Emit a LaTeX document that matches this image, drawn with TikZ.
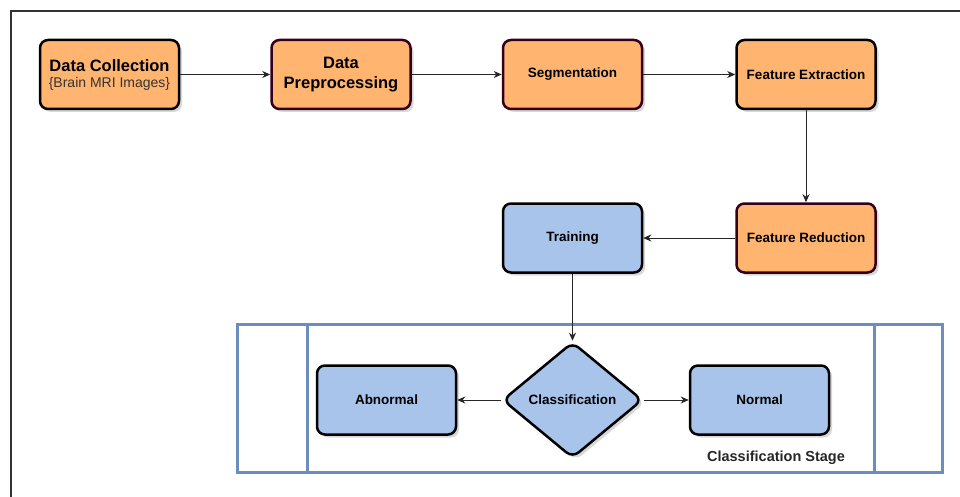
\documentclass[tikz,border=0pt]{standalone}
\usepackage{fontspec}
\setmainfont{Liberation Sans}
\usepackage{tikz}
\usetikzlibrary{shapes.geometric, arrows.meta, positioning, shadows}
\definecolor{boxorange}{HTML}{FFB570}
\definecolor{boxblue}{HTML}{A9C4EB}
\definecolor{darkmaroon}{HTML}{33001A}
\definecolor{stageblue}{HTML}{6C8EBF}
\newcommand{\bigfont}{\fontsize{16.5}{19.5}\selectfont}

\begin{document}
\begin{tikzpicture}[x=1pt, y=-1pt,
        box/.style={rectangle, draw=black, line width=2.5pt, rounded corners=8pt, minimum width=139pt, minimum height=69pt, align=center, font=\bfseries\fontsize{13.5}{16}\selectfont, fill=boxorange, drop shadow={shadow xshift=3pt, shadow yshift=-3pt, fill=black!30}},
        maroonbox/.style={box, draw=darkmaroon},
        bluebox/.style={box, fill=boxblue},
        decision/.style={diamond, draw=black, line width=2.5pt, rounded corners=8pt, minimum width=140pt, minimum height=116pt, inner sep=0pt, align=center, font=\bfseries\fontsize{13.5}{16}\selectfont, fill=boxblue, drop shadow={shadow xshift=3pt, shadow yshift=-3pt, fill=black!30}},
        arrow/.style={-{Stealth[length=8pt, width=7pt, inset=2.5pt]}, line width=1pt, draw=black!85},
        node distance=90pt and 90pt
    ]
        \useasboundingbox (0,0) rectangle (960,497);
        \draw[black!80, line width=1.3pt] (960,11) -- (11,11) -- (11,497);

        % classification stage frame
        \draw[stageblue, line width=3pt] (237.5,324.5) rectangle (942.5,472.5);
        \draw[stageblue, line width=3pt] (307,324.5) -- (307,472.5);
        \draw[stageblue, line width=3pt] (874,324.5) -- (874,472.5);
        \node[font=\bfseries\fontsize{14.5}{17}\selectfont, text=black!85] (stagelabel) at (776,458) {Classification Stage};

        \node[box] (collection) at (109.5,74.5) {\bigfont Data Collection\\{\mdseries\fontsize{14}{16}\selectfont\color{black!80}\{Brain MRI Images\}}};
        \node[maroonbox, right=of collection, font=\bfseries\bigfont] (preprocessing) {Data\\Preprocessing};
        \node[maroonbox, right=of preprocessing] (segmentation) {Segmentation};
        \node[box, right=92pt of segmentation] (extraction) {Feature Extraction};
        \node[maroonbox, below=92pt of extraction] (reduction) {Feature Reduction};
        \node[bluebox, left=92pt of reduction] (training) {Training};
        \node[decision, below=67pt of training] (classification) {Classification};
        \node[bluebox, left=44pt of classification] (abnormal) {Abnormal};
        \node[bluebox, right=45pt of classification] (normal) {Normal};

        \draw[arrow] (collection.east) -- (preprocessing.west);
        \draw[arrow] (preprocessing.east) -- (segmentation.west);
        \draw[arrow] (segmentation.east) -- (extraction.west);
        \draw[arrow] (extraction.south) -- (reduction.north);
        \draw[arrow] (reduction.west) -- (training.east);
        \draw[arrow] (training.south) -- (classification.north);
        \draw[arrow] (classification.west) -- (abnormal.east);
        \draw[arrow] (classification.east) -- (normal.west);
    \end{tikzpicture}
\end{document}
